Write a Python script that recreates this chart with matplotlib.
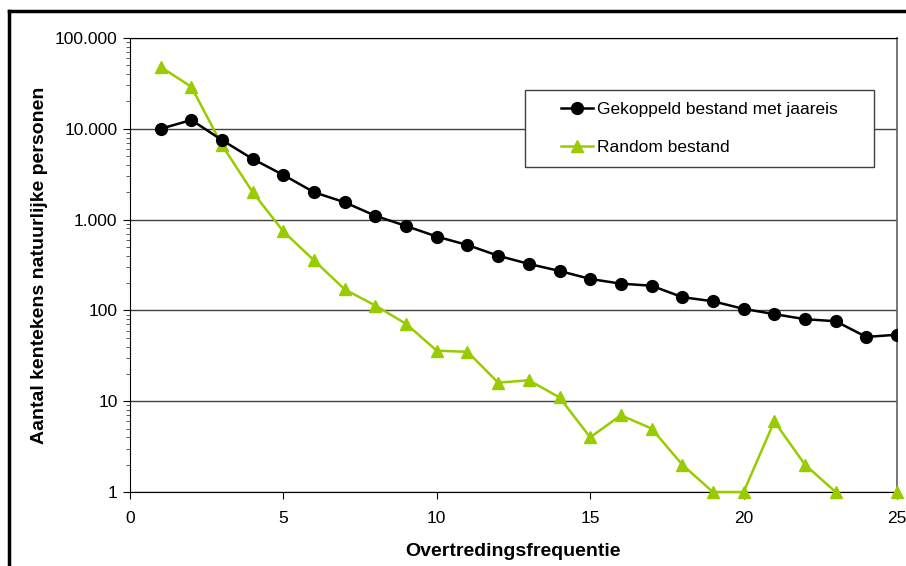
import numpy as np
import matplotlib
matplotlib.use("Agg")
import matplotlib.pyplot as plt
from matplotlib.ticker import FixedLocator, LogLocator, NullFormatter, FuncFormatter
from matplotlib.lines import Line2D
from matplotlib.patches import Rectangle

plt.rcParams["font.family"] = ["Liberation Sans", "DejaVu Sans"]

frequentie = list(range(1, 26))
gekoppeld = [10000, 12500, 7500, 4650, 3100, 2000, 1550, 1100, 850, 650,
             525, 400, 325, 272, 222, 197, 187, 140, 126, 104,
             91, 80, 76, 51, 54]
random_bestand = [48000, 29000, 6600, 2000, 740, 355, 170, 113, 71, 36,
                  35, 16, 17, 11, 4, 7, 5, 2, 1, 1,
                  6, 2, 1, np.nan, 1]
y_ticks = [1, 10, 100, 1000, 10000, 100000]
x_ticks = [0, 5, 10, 15, 20, 25]

W, H = 906, 566
fig = plt.figure(figsize=(W / 100, H / 100), dpi=100)
ax = fig.add_axes([130 / W, 1 - 492 / H, (897 - 130) / W, (492 - 38) / H])

green = "#99cc00"
ax.plot(frequentie, gekoppeld, color="black", lw=1.8, marker="o", ms=8.5,
        label="Gekoppeld bestand met jaareis", zorder=4)
ax.plot(frequentie, random_bestand, color=green, lw=1.8, marker="^", ms=9,
        label="Random bestand", zorder=3, clip_on=False)

ax.set_yscale("log")
ax.set_ylim(1, 100000)
ax.set_xlim(0, 25)
ax.yaxis.set_major_locator(FixedLocator(y_ticks))
ax.yaxis.set_minor_locator(LogLocator(base=10, subs=range(2, 10)))
ax.yaxis.set_minor_formatter(NullFormatter())
ax.yaxis.set_major_formatter(FuncFormatter(lambda v, p: f"{int(v):,}".replace(",", ".")))
ax.xaxis.set_major_locator(FixedLocator(x_ticks))

ax.grid(axis="y", which="major", color="#404040", lw=1)
ax.set_axisbelow(True)
for side in ["top", "left", "bottom"]:
    ax.spines[side].set_color("black")
ax.spines["right"].set_color("#606060")
ax.spines["right"].set_linewidth(1.2)
ax.tick_params(axis="both", which="major", direction="out", length=5, labelsize=12.5,
               color="black", pad=4)
ax.tick_params(axis="y", which="minor", direction="out", length=3, color="#404040")
ax.tick_params(axis="x", pad=9)

ax.set_xlabel("Overtredingsfrequentie", fontsize=14, fontweight="bold", labelpad=12)
ax.set_ylabel("Aantal kentekens natuurlijke personen", fontsize=14, fontweight="bold",
              labelpad=5)

# legend box drawn separately, entries centred inside it
fig.add_artist(Rectangle((525 / W, 1 - 167 / H), (874 - 525) / W, (167 - 90) / H,
                         transform=fig.transFigure, facecolor="white",
                         edgecolor="#404040", lw=1, zorder=5))
leg = fig.legend(loc="center", bbox_to_anchor=(699.5 / W, 1 - 128.5 / H),
                 handles=ax.get_lines(), fontsize=12.5, frameon=False,
                 borderpad=0, labelspacing=1.3, handlelength=1.8, handletextpad=0.25)
leg.set_zorder(6)

# outer frame, only left and top edges fall inside the image
fig.add_artist(Line2D([8.5 / W, 8.5 / W], [0, 1 - 10.5 / H], color="black", lw=2.5,
                      transform=fig.transFigure))
fig.add_artist(Line2D([8.5 / W, 1], [1 - 10.5 / H, 1 - 10.5 / H], color="black", lw=2.5,
                      transform=fig.transFigure))

fig.savefig("out.png", dpi=100)
